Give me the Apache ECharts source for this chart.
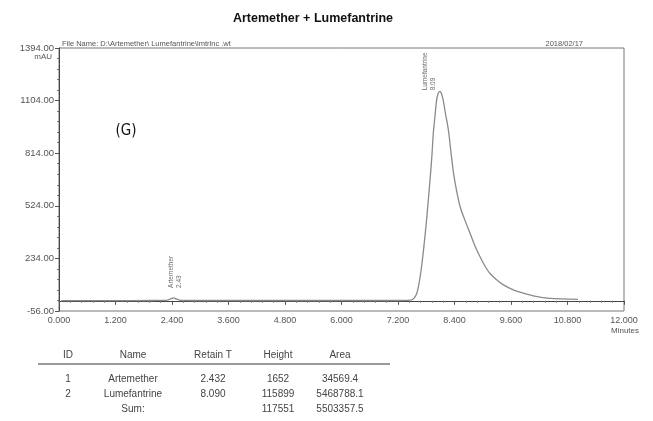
<!DOCTYPE html>
<html>
<head>
<meta charset="utf-8">
<script src="https://cdn.jsdelivr.net/npm/echarts@6/dist/echarts.min.js"></script>
<style>
  html, body { margin: 0; padding: 0; background: #fff; }
  #chart { width: 653px; height: 421px; }
</style>
</head>
<body>
<div id="chart"></div>
<script>
// Detector trace (minutes vs mAU)
const traceTime = [0.05, 1.0, 2.0, 2.30, 2.38, 2.43, 2.50, 2.60, 3.0, 4.0, 5.0, 6.0, 7.0, 7.40, 7.50, 7.55, 7.60, 7.65, 7.70, 7.75, 7.80, 7.84, 7.88, 7.92, 7.95, 7.99, 8.02, 8.05, 8.09, 8.12, 8.16, 8.21, 8.27, 8.32, 8.38, 8.45, 8.52, 8.62, 8.73, 8.83, 8.94, 9.04, 9.15, 9.30, 9.44, 9.65, 9.86, 10.10, 10.43, 11.02];
const traceMAU  = [1, 1, 2, 4, 12, 16, 9, 3, 2, 2, 2, 2, 2, 3, 6, 18, 42, 100, 188, 300, 428, 545, 666, 800, 924, 1030, 1107, 1140, 1155, 1145, 1107, 1030, 942, 830, 703, 600, 519, 445, 373, 305, 244, 195, 152, 115, 88, 60, 42, 26, 14, 8];

// Peak annotations
const peakNames = ['Artemether', 'Lumefantrine'];
const peakRT    = [2.43, 8.09];
const peakTop   = [16, 1155];

// Peak table
const tableIds     = ['1', '2'];
const tableRetainT = ['2.432', '8.090'];
const tableHeight  = [1652, 115899];
const tableArea    = [34569.4, 5468788.1];
const tableHeaders = ['ID', 'Name', 'Retain T', 'Height', 'Area'];

// Axis ticks
const yTicks = [-56, 234, 524, 814, 1104, 1394];
const xMin = 0, xMax = 12, xStep = 1.2;

const chart = echarts.init(document.getElementById('chart'));

// label offsets are given in the rotated text frame: [-screenDy, screenDx]
const labelShift = [[10, 2], [1, -11]];

const peakData = peakRT.map((t, i) => ({
  value: [t, peakTop[i]],
  label: {
    formatter: peakNames[i] + '\n' + peakRT[i].toFixed(2),
    offset: labelShift[i]
  }
}));

// table layout
const colX = [68, 133, 213, 278, 340];
const headY = 355, rowY0 = 379, rowStep = 15;
const txt = { fill: '#444', fontSize: 10, fontFamily: 'Liberation Sans, Arial, sans-serif', textAlign: 'center', textVerticalAlign: 'middle' };
const tableGraphics = [];
tableHeaders.forEach((h, c) => tableGraphics.push({ type: 'text', x: colX[c], y: headY, style: Object.assign({ text: h }, txt) }));
tableGraphics.push({ type: 'line', shape: { x1: 38, y1: 364, x2: 390, y2: 364 }, style: { stroke: '#777', lineWidth: 1.5 } });
tableIds.forEach((id, r) => {
  const row = [id, peakNames[r], tableRetainT[r], String(tableHeight[r]), tableArea[r].toFixed(1)];
  row.forEach((v, c) => tableGraphics.push({ type: 'text', x: colX[c], y: rowY0 + r * rowStep, style: Object.assign({ text: v }, txt) }));
});
const sumY = rowY0 + tableIds.length * rowStep;
const heightSum = tableHeight.reduce((a, b) => a + b, 0);
const areaSum = tableArea.reduce((a, b) => a + b, 0);
tableGraphics.push({ type: 'text', x: colX[1], y: sumY, style: Object.assign({ text: 'Sum:' }, txt) });
tableGraphics.push({ type: 'text', x: colX[3], y: sumY, style: Object.assign({ text: String(heightSum) }, txt) });
tableGraphics.push({ type: 'text', x: colX[4], y: sumY, style: Object.assign({ text: areaSum.toFixed(1) }, txt) });

const small = { fill: '#555', fontSize: 7.5, fontFamily: 'Liberation Sans, Arial, sans-serif' };

chart.setOption({
  backgroundColor: '#fff',
  animation: false,
  title: {
    text: 'Artemether + Lumefantrine',
    left: 308, top: 7, textAlign: 'center',
    textStyle: { fontSize: 12.5, fontWeight: 'bold', color: '#111', fontFamily: 'Liberation Sans, Arial, sans-serif' }
  },
  grid: { left: 59, right: 29, top: 48, bottom: 110, show: true, borderColor: '#777', borderWidth: 1 },
  xAxis: {
    type: 'value', min: xMin, max: xMax, interval: xStep,
    axisLine: { lineStyle: { color: '#444' } },
    axisTick: { show: true, length: 4, lineStyle: { color: '#555' } },
    minorTick: { show: true, splitNumber: 5, length: 2, lineStyle: { color: '#777' } },
    splitLine: { show: false },
    axisLabel: { color: '#555', fontSize: 9, margin: 5, fontFamily: 'Liberation Sans, Arial, sans-serif', formatter: v => v.toFixed(3) }
  },
  yAxis: {
    type: 'value', min: yTicks[0], max: yTicks[yTicks.length - 1], interval: yTicks[1] - yTicks[0],
    axisLine: { show: true, lineStyle: { color: '#444' } },
    axisTick: { show: true, length: 4, lineStyle: { color: '#555' } },
    minorTick: { show: true, splitNumber: 5, length: 2, lineStyle: { color: '#777' } },
    splitLine: { show: false },
    axisLabel: { color: '#555', fontSize: 9.5, margin: 5, fontFamily: 'Liberation Sans, Arial, sans-serif', formatter: v => v.toFixed(2) }
  },
  series: [
    {
      type: 'line',
      data: traceTime.map((t, i) => [t, traceMAU[i]]),
      smooth: 0.3,
      showSymbol: false,
      lineStyle: { color: '#8a8a8a', width: 1.3 }
    },
    {
      type: 'scatter',
      data: peakData,
      symbolSize: 0,
      label: {
        show: true,
        position: 'inside',
        rotate: 90,
        align: 'left',
        verticalAlign: 'middle',
        color: '#444',
        fontSize: 6.5,
        lineHeight: 8,
        fontFamily: 'Liberation Sans, Arial, sans-serif'
      }
    }
  ],
  graphic: [
    { type: 'text', x: 62, y: 40, style: Object.assign({ text: 'File Name: D:\\Artemether\\ Lumefantrine\\lmtrlnc .wt' }, small) },
    { type: 'text', x: 583, y: 40, style: Object.assign({ text: '2018/02/17', textAlign: 'right' }, small) },
    { type: 'text', x: 52, y: 53, style: Object.assign({ text: 'mAU', textAlign: 'right' }, small, { fontSize: 8 }) },
    { type: 'text', x: 625, y: 327, style: Object.assign({ text: 'Minutes', textAlign: 'center' }, small, { fontSize: 8 }) },
    { type: 'text', x: 126, y: 131, style: { text: '(G)', fill: '#111', fontSize: 15, fontFamily: 'DejaVu Sans Condensed, Liberation Sans Narrow, sans-serif', textAlign: 'center', textVerticalAlign: 'middle' } }
  ].concat(tableGraphics)
});
</script>
</body>
</html>
